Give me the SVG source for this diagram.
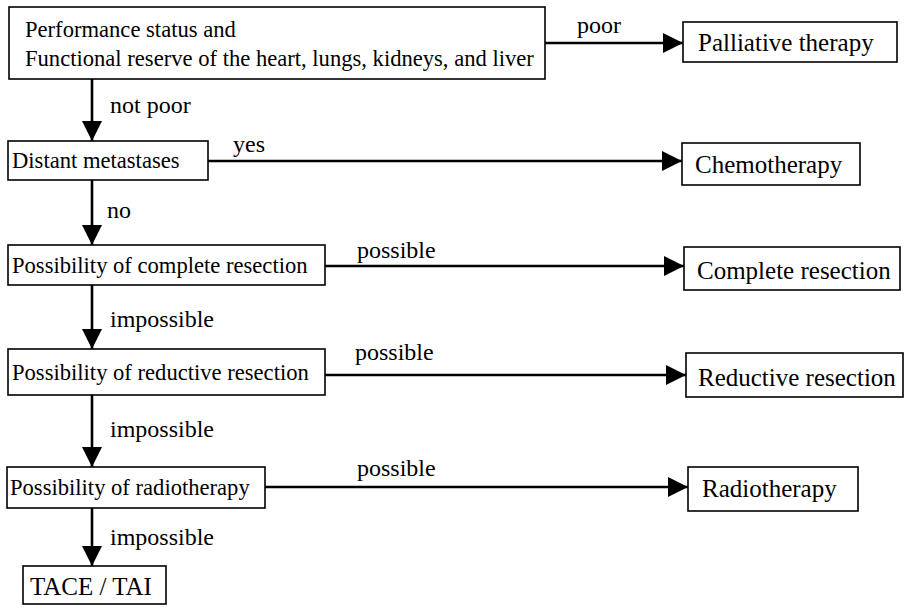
<svg xmlns="http://www.w3.org/2000/svg" width="905" height="614" viewBox="0 0 905 614">
<defs>
<marker id="ah" markerUnits="userSpaceOnUse" markerWidth="20" markerHeight="20" refX="20" refY="10" orient="auto">
<path d="M0,0 L20,10 L0,20 Z" fill="#000"/>
</marker>
</defs>
<style>
.box{fill:#fff;stroke:#000;stroke-width:1.6}
text{font-family:"Liberation Serif","Times New Roman",serif;fill:#000}
.c{font-size:22.6px}
.r{font-size:25px}
.l{font-size:24px}
.e{stroke:#000;stroke-width:2.6;fill:none;marker-end:url(#ah)}
</style>
<rect width="905" height="614" fill="#fff"/>
<g id="connectors">
<path class="e" d="M545,43 H683"/>
<path class="e" d="M92,79 V141"/>
<path class="e" d="M208,161 H682"/>
<path class="e" d="M92,180 V245"/>
<path class="e" d="M325,266 H684"/>
<path class="e" d="M92,285 V349"/>
<path class="e" d="M325,375 H686"/>
<path class="e" d="M92,395 V467"/>
<path class="e" d="M265,487 H688"/>
<path class="e" d="M92,508 V566"/>
<text class="l" x="577" y="33">poor</text>
<text class="l" x="110" y="113">not poor</text>
<text class="l" x="233" y="152">yes</text>
<text class="l" x="107" y="218">no</text>
<text class="l" x="357" y="258">possible</text>
<text class="l" x="110" y="327">impossible</text>
<text class="l" x="355" y="360">possible</text>
<text class="l" x="110" y="437">impossible</text>
<text class="l" x="357" y="476">possible</text>
<text class="l" x="110" y="545">impossible</text>
</g>
<g id="n-performance">
<rect class="box" x="9" y="7" width="536" height="72"/>
<text class="c" x="25" y="37">Performance status and</text>
<text class="c" x="25" y="66">Functional reserve of the heart, lungs, kidneys, and liver</text>
</g>
<g id="n-distant">
<rect class="box" x="8" y="141" width="200" height="39"/>
<text class="c" x="12" y="168">Distant metastases</text>
</g>
<g id="n-complete-q">
<rect class="box" x="8" y="245" width="317" height="40"/>
<text class="c" x="12" y="273">Possibility of complete resection</text>
</g>
<g id="n-reductive-q">
<rect class="box" x="8" y="349" width="317" height="46"/>
<text class="c" x="12" y="380">Possibility of reductive resection</text>
</g>
<g id="n-radio-q">
<rect class="box" x="7" y="467" width="258" height="41"/>
<text class="c" x="10" y="495">Possibility of radiotherapy</text>
</g>
<g id="n-tace">
<rect class="box" x="23" y="566" width="143" height="38"/>
<text class="r" x="30" y="595">TACE / TAI</text>
</g>
<g id="n-palliative">
<rect class="box" x="683" y="22" width="214" height="40"/>
<text class="r" x="698" y="51">Palliative therapy</text>
</g>
<g id="n-chemo">
<rect class="box" x="682" y="143" width="178" height="42"/>
<text class="r" x="695" y="173">Chemotherapy</text>
</g>
<g id="n-complete">
<rect class="box" x="684" y="247" width="216" height="43"/>
<text class="r" x="697" y="279">Complete resection</text>
</g>
<g id="n-reductive">
<rect class="box" x="686" y="353" width="217" height="44"/>
<text class="r" x="698" y="386">Reductive resection</text>
</g>
<g id="n-radio">
<rect class="box" x="688" y="467" width="170" height="44"/>
<text class="r" x="702" y="497">Radiotherapy</text>
</g>
</svg>
